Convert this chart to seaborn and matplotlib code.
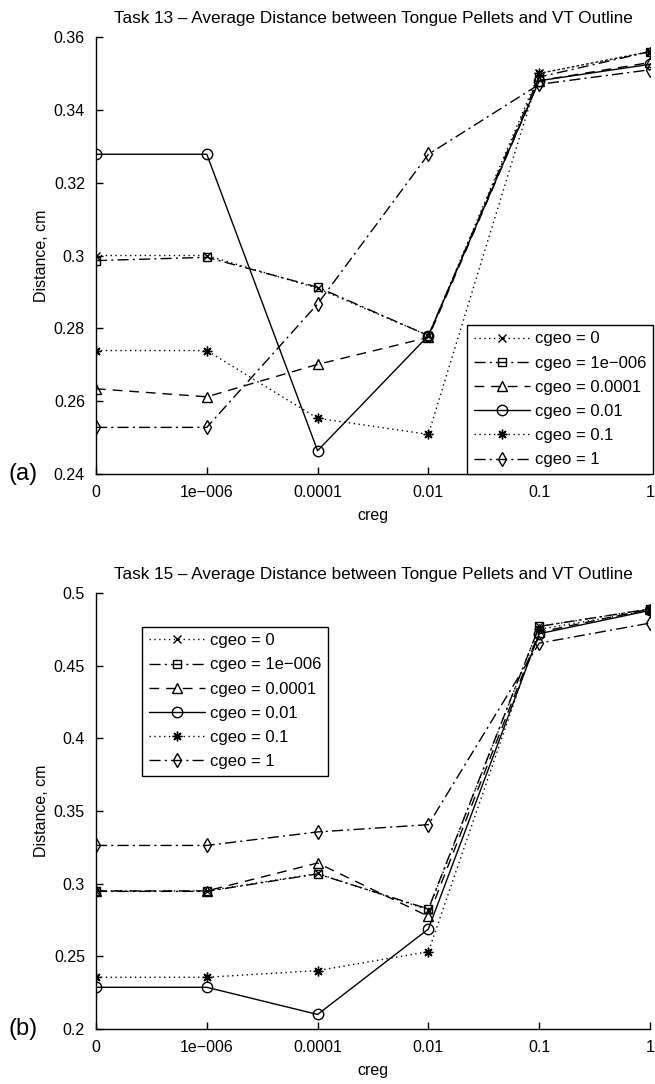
import matplotlib
matplotlib.use("Agg")
import matplotlib.pyplot as plt
import seaborn as sns
import numpy as np

# ---------------- data ----------------
creg_labels = ['0', '1e\u2212006', '0.0001', '0.01', '0.1', '1']
series_labels = ['cgeo = 0', 'cgeo = 1e\u2212006', 'cgeo = 0.0001',
                 'cgeo = 0.01', 'cgeo = 0.1', 'cgeo = 1']

# Task 13
t13_cgeo_0 = [0.300, 0.300, 0.291, 0.278, 0.350, 0.356]
t13_cgeo_1e6 = [0.2986, 0.2995, 0.2913, 0.278, 0.349, 0.356]
t13_cgeo_1e4 = [0.2634, 0.2612, 0.2701, 0.2775, 0.348, 0.353]
t13_cgeo_1e2 = [0.3278, 0.3278, 0.2464, 0.278, 0.348, 0.3525]
t13_cgeo_1e1 = [0.2739, 0.2739, 0.2553, 0.2509, 0.350, 0.356]
t13_cgeo_1 = [0.2528, 0.2528, 0.2867, 0.3278, 0.347, 0.351]

# Task 15
t15_cgeo_0 = [0.295, 0.295, 0.307, 0.282, 0.477, 0.489]
t15_cgeo_1e6 = [0.2947, 0.2947, 0.3067, 0.2826, 0.477, 0.489]
t15_cgeo_1e4 = [0.295, 0.295, 0.3142, 0.2775, 0.473, 0.489]
t15_cgeo_1e2 = [0.2287, 0.2287, 0.210, 0.2688, 0.472, 0.488]
t15_cgeo_1e1 = [0.2356, 0.2356, 0.2402, 0.2532, 0.475, 0.488]
t15_cgeo_1 = [0.3263, 0.3263, 0.3356, 0.3406, 0.4655, 0.4793]

t13_yticks = [0.24, 0.26, 0.28, 0.30, 0.32, 0.34, 0.36]
t13_yticklabels = ['0.24', '0.26', '0.28', '0.3', '0.32', '0.34', '0.36']
t15_yticks = [0.2, 0.25, 0.3, 0.35, 0.4, 0.45, 0.5]
t15_yticklabels = ['0.2', '0.25', '0.3', '0.35', '0.4', '0.45', '0.5']

# ---------------- style ----------------
sns.set_theme(style='white')
plt.rcParams['font.family'] = ['Liberation Sans', 'DejaVu Sans']
plt.rcParams['axes.linewidth'] = 1.0
plt.rcParams['axes.edgecolor'] = 'black'
plt.rcParams['text.color'] = 'black'
plt.rcParams['axes.labelcolor'] = 'black'
plt.rcParams['xtick.color'] = 'black'
plt.rcParams['ytick.color'] = 'black'

FS = 12
markers = ['x', 's', '^', 'o', (8, 2, 0), 'd']
msizes = [6, 6, 7, 7.5, 7, 7.5]
linestyles = [(0, (1, 2.5)), (0, (8, 3, 1.5, 3)), (0, (7, 5)), '-',
              (0, (1, 2.5)), (0, (8, 3, 1.5, 3))]

fig = plt.figure(figsize=(6.55, 10.84), dpi=100)
W, H = 655, 1084


def make_ax(x0, x1, ytop, ybot):
    return fig.add_axes([x0 / W, 1 - ybot / H, (x1 - x0) / W, (ybot - ytop) / H])


ax1 = make_ax(96, 650, 37, 474)
ax2 = make_ax(96, 650, 593, 1029)

xs = np.arange(len(creg_labels))


def draw(ax, series, title, yticks, yticklabels, ylim, legend_kw, tag, tag_y):
    for vals, lab, m, ms, ls in zip(series, series_labels, markers, msizes, linestyles):
        sns.lineplot(x=xs, y=vals, ax=ax, color='black', linewidth=1.0,
                     linestyle=ls, marker=m, markersize=ms,
                     markerfacecolor='none', markeredgecolor='black',
                     markeredgewidth=1.0, label=lab, errorbar=None)
    ax.set_xlim(xs[0], xs[-1])
    ax.set_ylim(*ylim)
    ax.set_xticks(xs)
    ax.set_xticklabels(creg_labels)
    ax.set_yticks(yticks)
    ax.set_yticklabels(yticklabels)
    ax.tick_params(direction='in', length=5, width=1.0, labelsize=FS - 0.5,
                   top=False, right=False, pad=8, bottom=True, left=True)
    ax.spines['top'].set_visible(False)
    ax.spines['right'].set_visible(False)
    ax.set_xlabel('creg', fontsize=FS - 0.5, labelpad=6)
    ax.set_ylabel('Distance, cm', fontsize=FS - 0.5, labelpad=3)
    ax.set_title(title, fontsize=12.3, pad=10)
    leg = ax.legend(frameon=True, fancybox=False, edgecolor='black',
                    fontsize=FS, handlelength=3.4, handletextpad=0.3,
                    labelspacing=0.55, borderpad=0.4, borderaxespad=0,
                    numpoints=1, **legend_kw)
    leg.get_frame().set_linewidth(1.0)
    leg.get_frame().set_alpha(1.0)
    fig.text(8 / W, 1 - tag_y / H, tag, fontsize=17, ha='left', va='center')


draw(ax1, [t13_cgeo_0, t13_cgeo_1e6, t13_cgeo_1e4, t13_cgeo_1e2, t13_cgeo_1e1, t13_cgeo_1],
     'Task 13 \u2013 Average Distance between Tongue Pellets and VT Outline',
     t13_yticks, t13_yticklabels, (0.24, 0.36),
     dict(loc='lower right', bbox_to_anchor=(1.006, 0.0)), '(a)', 474)

draw(ax2, [t15_cgeo_0, t15_cgeo_1e6, t15_cgeo_1e4, t15_cgeo_1e2, t15_cgeo_1e1, t15_cgeo_1],
     'Task 15 \u2013 Average Distance between Tongue Pellets and VT Outline',
     t15_yticks, t15_yticklabels, (0.2, 0.5),
     dict(loc='upper left', bbox_to_anchor=(0.083, 0.923)), '(b)', 1029)

fig.savefig('out.png', dpi=100, facecolor='white')
